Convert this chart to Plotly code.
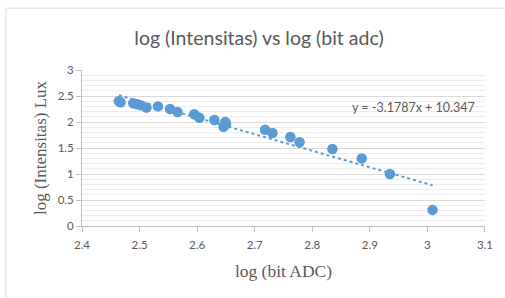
import plotly.graph_objects as go

log_adc = [2.464, 2.467, 2.489, 2.496, 2.502, 2.512, 2.532, 2.553, 2.566, 2.595,
           2.604, 2.630, 2.649, 2.646, 2.650, 2.718, 2.731, 2.762, 2.778, 2.835,
           2.886, 2.935, 3.009]
log_lux = [2.40, 2.38, 2.36, 2.34, 2.32, 2.28, 2.30, 2.25, 2.19, 2.15,
           2.08, 2.04, 2.00, 1.91, 1.96, 1.85, 1.79, 1.71, 1.61, 1.48,
           1.30, 1.00, 0.31]
x_ticks = [2.4, 2.5, 2.6, 2.7, 2.8, 2.9, 3.0, 3.1]
x_tick_labels = ["2.4", "2.5", "2.6", "2.7", "2.8", "2.9", "3", "3.1"]
y_ticks = [0, 0.5, 1, 1.5, 2, 2.5, 3]
y_tick_labels = ["0", "0.5", "1", "1.5", "2", "2.5", "3"]
slope = -3.1787
intercept = 10.347
equation_text = "y = -3.1787x + 10.347"

blue = "#5B9BD5"
gray = "#595959"

tx = [min(log_adc), max(log_adc)]
ty = [slope * v + intercept for v in tx]

fig = go.Figure()
fig.add_trace(go.Scatter(x=tx, y=ty, mode="lines",
                         line=dict(color=blue, width=2, dash="dot"),
                         hoverinfo="skip", showlegend=False))
fig.add_trace(go.Scatter(x=log_adc, y=log_lux, mode="markers",
                         marker=dict(color=blue, size=10.5),
                         showlegend=False))

fig.update_layout(
    width=505, height=298,
    margin=dict(l=82, r=20, t=70, b=71.5),
    paper_bgcolor="white", plot_bgcolor="white",
    title=dict(text="log (Intensitas) vs log (bit adc)",
               font=dict(family="Lato", size=19.5, color=gray),
               x=259 / 505, xanchor="center", y=1 - 38 / 298, yanchor="middle"),
    xaxis=dict(range=[2.4, 3.1001], tickvals=x_ticks, ticktext=x_tick_labels,
               showgrid=False, zeroline=False, showline=True,
               linecolor="#BFBFBF", linewidth=1,
               ticks="outside", ticklen=5, tickcolor="#BFBFBF",
               ticklabelstandoff=3,
               tickfont=dict(family="Lato", size=11.5, color=gray),
               title=dict(text="log (bit ADC)", standoff=14,
                          font=dict(family="Liberation Serif", size=17.5, color=gray))),
    yaxis=dict(range=[0, 3.0001], tickvals=y_ticks, ticktext=y_tick_labels,
               showgrid=True, gridcolor="#D9D9D9",
               gridwidth=1, zeroline=False, showline=True, linecolor="#BFBFBF",
               linewidth=1, ticks="outside", ticklen=5, tickcolor="#BFBFBF",
               tickfont=dict(family="Lato", size=11.5, color=gray),
               minor=dict(dtick=0.1, tick0=0, showgrid=True, gridcolor="#EDEDED", gridwidth=1),
               title=dict(text="log (Intensitas) Lux", standoff=6,
                          font=dict(family="Liberation Serif", size=17, color=gray))),
    annotations=[dict(text=equation_text, xref="paper", yref="paper",
                      x=(413 - 82) / 403, y=(226.5 - 108) / 156.5,
                      xanchor="center", yanchor="middle",
                      showarrow=False, font=dict(family="Lato", size=12.5, color=gray))],
    shapes=[
        dict(type="line", xref="paper", yref="paper",
             x0=(6 - 82) / 403, x1=(505 - 82) / 403 + 0.1,
             y0=(298 - 71.5 - 8) / 156.5, y1=(298 - 71.5 - 8) / 156.5,
             line=dict(color="#D9D9D9", width=1)),
        dict(type="line", xref="paper", yref="paper",
             x0=(6 - 82) / 403, x1=(6 - 82) / 403,
             y0=(298 - 71.5 - 8) / 156.5, y1=-1,
             line=dict(color="#D9D9D9", width=1)),
    ],
)
fig.write_html("out.html", config={"displayModeBar": False},
               post_script="document.body.style.margin='0';document.body.style.overflow='hidden';")
